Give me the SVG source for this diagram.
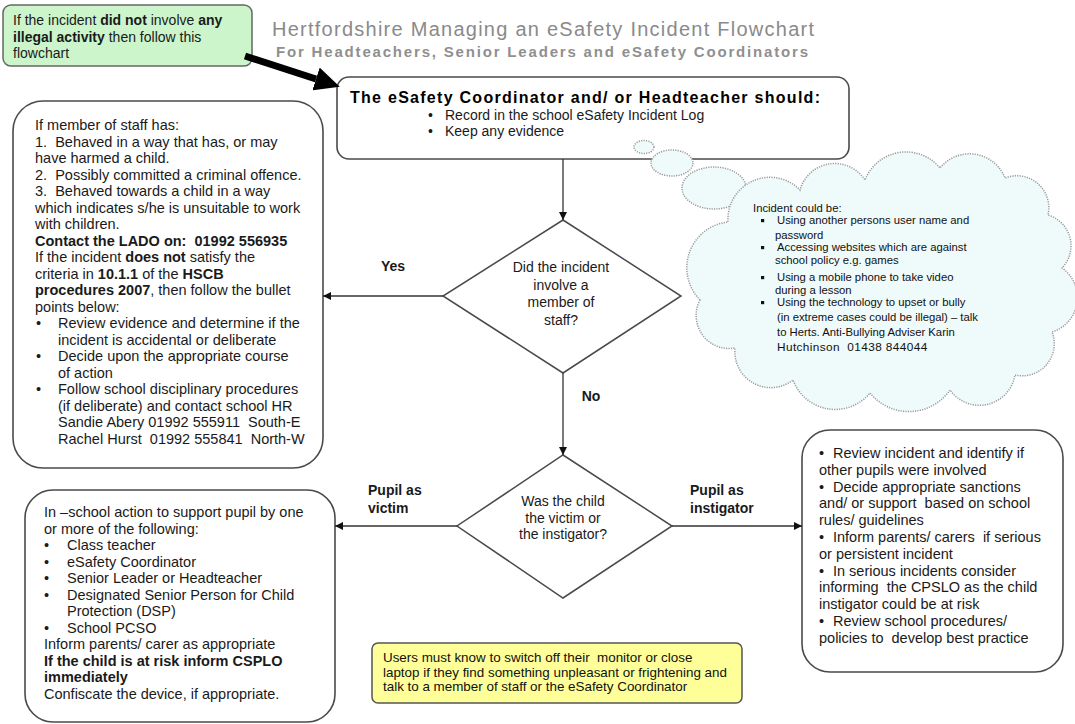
<svg xmlns="http://www.w3.org/2000/svg" width="1075" height="724" viewBox="0 0 1075 724">
<style>
.t{font-family:"Liberation Sans",Arial,sans-serif;font-size:14.5px;fill:#1a1a1a}
.b{font-weight:bold}
.s{font-size:14px}
.c{font-size:11.3px;fill:#111}
.y{font-size:13.4px;fill:#111}
.box{fill:#fff;stroke:#4a4a4a;stroke-width:1.6}
.dia{fill:#fff;stroke:#4a4a4a;stroke-width:1.5}
.conn{stroke:#333;stroke-width:1.3;fill:none;marker-end:url(#ah)}
.cl{fill:#effafa;stroke:#9a9a9a;stroke-width:1.5;stroke-dasharray:1.2 1.2}
</style>
<defs>
<marker id="ah" markerUnits="userSpaceOnUse" markerWidth="9" markerHeight="8" refX="8" refY="4" orient="auto">
<path d="M0,0 L8,4 L0,8 z" fill="#111"/>
</marker>
<marker id="big" markerUnits="userSpaceOnUse" markerWidth="26" markerHeight="24" refX="0" refY="12" orient="auto">
<path d="M0,0 L25,12 L0,24 z" fill="#000"/>
</marker>
</defs>
<rect width="1075" height="724" fill="#fff"/>

<g id="title">
<text class="t" x="272" y="36" style="font-size:20px;fill:#8a8a8a" textLength="542" lengthAdjust="spacing">Hertfordshire Managing an eSafety Incident Flowchart</text>
<text class="t b" x="276" y="57" style="font-size:15px;fill:#8f8f8f" textLength="532" lengthAdjust="spacing">For Headteachers, Senior Leaders and eSafety Coordinators</text>
</g>

<g id="note-green">
<rect x="3" y="5" width="249" height="61" rx="8" fill="#ccf5cc" stroke="#666" stroke-width="1.5"/>
<text class="t" x="13" y="25" style="font-size:14px">If the incident <tspan class="b">did not</tspan> involve <tspan class="b">any</tspan></text>
<text class="t" x="13" y="42" style="font-size:14px"><tspan class="b">illegal activity</tspan> then follow this</text>
<text class="t" x="13" y="58" style="font-size:14px">flowchart</text>
</g>

<g id="coordinator">
<rect class="box" x="337" y="77" width="512" height="82" rx="12"/>
<text class="t b" x="350" y="103" style="font-size:16px;fill:#000" textLength="470" lengthAdjust="spacing">The eSafety Coordinator and/ or Headteacher should:</text>
<text class="t s" x="428" y="120">•</text>
<text class="t s" x="445" y="120">Record in the school eSafety Incident Log</text>
<text class="t s" x="428" y="136">•</text>
<text class="t s" x="445" y="136">Keep any evidence</text>
</g>

<g id="staff-box">
<rect class="box" x="13" y="101" width="310" height="367" rx="30"/>
<text class="t" x="35" y="130">If member of staff has:</text>
<text class="t" x="35" y="146.5" xml:space="preserve">1.  Behaved in a way that has, or may</text>
<text class="t" x="35" y="163">have harmed a child.</text>
<text class="t" x="35" y="179.5" xml:space="preserve">2.  Possibly committed a criminal offence.</text>
<text class="t" x="35" y="196" xml:space="preserve">3.  Behaved towards a child in a way</text>
<text class="t" x="35" y="212.5">which indicates s/he is unsuitable to work</text>
<text class="t" x="35" y="229">with children.</text>
<text class="t b" x="35" y="245.5" xml:space="preserve">Contact the LADO on:  01992 556935</text>
<text class="t" x="35" y="262">If the incident <tspan class="b">does not</tspan> satisfy the</text>
<text class="t" x="35" y="278.5">criteria in <tspan class="b">10.1.1</tspan> of the <tspan class="b">HSCB</tspan></text>
<text class="t" x="35" y="295"><tspan class="b">procedures 2007</tspan>, then follow the bullet</text>
<text class="t" x="35" y="311.5">points below:</text>
<text class="t" x="36" y="328">•</text>
<text class="t" x="58" y="328">Review evidence and determine if the</text>
<text class="t" x="58" y="344.5">incident is accidental or deliberate</text>
<text class="t" x="36" y="361">•</text>
<text class="t" x="58" y="361">Decide upon the appropriate course</text>
<text class="t" x="58" y="377.5">of action</text>
<text class="t" x="36" y="394">•</text>
<text class="t" x="58" y="394">Follow school disciplinary procedures</text>
<text class="t" x="58" y="410.5">(if deliberate) and contact school HR</text>
<text class="t" x="58" y="427" xml:space="preserve">Sandie Abery 01992 555911  South-E</text>
<text class="t" x="58" y="443.5" xml:space="preserve">Rachel Hurst  01992 555841  North-W</text>
</g>

<g id="thought-cloud">
<ellipse class="cl" cx="644" cy="147" rx="10" ry="6.5"/>
<ellipse class="cl" cx="672" cy="163" rx="21" ry="13"/>
<ellipse class="cl" cx="714" cy="188" rx="32" ry="21"/>
<path class="cl" d="M700,300 A46,46 0 0 1 728,222 A42,42 0 0 1 800,190 A36,36 0 0 1 865,180 A44,44 0 0 1 940,168 A38,38 0 0 1 1005,178 A32,32 0 0 1 1048,215 A32,32 0 0 1 1062,268 A36,36 0 0 1 1052,332 A32,32 0 0 1 1015,375 A36,36 0 0 1 950,390 A50,50 0 0 1 870,393 A45,45 0 0 1 793,380 A36,36 0 0 1 735,348 A33,33 0 0 1 700,300 Z"/>
<text class="t c" x="753" y="212">Incident could be:</text>
<rect x="761" y="219" width="3.2" height="3.2" fill="#111"/>
<text class="t c" x="777" y="224">Using another persons user name and</text>
<text class="t c" x="775" y="239">password</text>
<rect x="761" y="246" width="3.2" height="3.2" fill="#111"/>
<text class="t c" x="777" y="251">Accessing websites which are against</text>
<text class="t c" x="775" y="264">school policy e.g. games</text>
<rect x="761" y="276" width="3.2" height="3.2" fill="#111"/>
<text class="t c" x="777" y="281">Using a mobile phone to take video</text>
<text class="t c" x="775" y="294">during a lesson</text>
<rect x="761" y="301" width="3.2" height="3.2" fill="#111"/>
<text class="t c" x="777" y="306">Using the technology to upset or bully</text>
<text class="t c" x="777" y="321">(in extreme cases could be illegal) – talk</text>
<text class="t c" x="777" y="336">to Herts. Anti-Bullying Adviser Karin</text>
<text class="t c" x="777" y="351" style="font-size:11.8px;letter-spacing:0.4px" xml:space="preserve">Hutchinson  01438 844044</text>
</g>

<g id="decision-staff">
<polygon class="dia" points="563,220 681,296 563,373 443,296"/>
<text class="t s" x="561" y="272" text-anchor="middle">Did the incident</text>
<text class="t s" x="561" y="290" text-anchor="middle">involve a</text>
<text class="t s" x="561" y="307" text-anchor="middle">member of</text>
<text class="t s" x="561" y="325" text-anchor="middle">staff?</text>
</g>

<g id="decision-pupil">
<polygon class="dia" points="563,455 672,526 563,598 457,526"/>
<text class="t s" x="563" y="506" text-anchor="middle">Was the child</text>
<text class="t s" x="563" y="523" text-anchor="middle">the victim or</text>
<text class="t s" x="563" y="539" text-anchor="middle">the instigator?</text>
</g>

<g id="victim-box">
<rect class="box" x="25" y="490" width="310" height="232" rx="28"/>
<text class="t" x="44" y="517">In –school action to support pupil by one</text>
<text class="t" x="44" y="533.5">or more of the following:</text>
<text class="t" x="44" y="550">•</text>
<text class="t" x="67" y="550">Class teacher</text>
<text class="t" x="44" y="566.5">•</text>
<text class="t" x="67" y="566.5">eSafety Coordinator</text>
<text class="t" x="44" y="583">•</text>
<text class="t" x="67" y="583">Senior Leader or Headteacher</text>
<text class="t" x="44" y="599.5">•</text>
<text class="t" x="67" y="599.5">Designated Senior Person for Child</text>
<text class="t" x="67" y="616">Protection (DSP)</text>
<text class="t" x="44" y="632.5">•</text>
<text class="t" x="67" y="632.5">School PCSO</text>
<text class="t" x="44" y="649">Inform parents/ carer as appropriate</text>
<text class="t b" x="44" y="665.5">If the child is at risk inform CSPLO</text>
<text class="t b" x="44" y="682">immediately</text>
<text class="t" x="44" y="698.5">Confiscate the device, if appropriate.</text>
</g>

<g id="instigator-box">
<rect class="box" x="802" y="430" width="261" height="242" rx="28"/>
<text class="t" x="819" y="458">•</text><text class="t" x="833" y="458">Review incident and identify if</text>
<text class="t" x="819" y="474.8">other pupils were involved</text>
<text class="t" x="819" y="491.6">•</text><text class="t" x="833" y="491.6">Decide appropriate sanctions</text>
<text class="t" x="819" y="508.4" xml:space="preserve">and/ or support  based on school</text>
<text class="t" x="819" y="525.2">rules/ guidelines</text>
<text class="t" x="819" y="542">•</text><text class="t" x="833" y="542" xml:space="preserve">Inform parents/ carers  if serious</text>
<text class="t" x="819" y="558.8">or persistent incident</text>
<text class="t" x="819" y="575.6">•</text><text class="t" x="833" y="575.6">In serious incidents consider</text>
<text class="t" x="819" y="592.4" xml:space="preserve">informing  the CPSLO as the child</text>
<text class="t" x="819" y="609.2">instigator could be at risk</text>
<text class="t" x="819" y="626">•</text><text class="t" x="833" y="626">Review school procedures/</text>
<text class="t" x="819" y="642.8" xml:space="preserve">policies to  develop best practice</text>
</g>

<g id="note-yellow">
<rect x="372" y="643" width="370" height="60" rx="6" fill="#ffff99" stroke="#555" stroke-width="1.5"/>
<text class="t y" x="383" y="662" xml:space="preserve">Users must know to switch off their  monitor or close</text>
<text class="t y" x="383" y="677">laptop if they find something unpleasant or frightening and</text>
<text class="t y" x="383" y="691">talk to a member of staff or the eSafety Coordinator</text>
</g>

<g id="connectors">
<line x1="245" y1="56" x2="316" y2="79" stroke="#000" stroke-width="7" marker-end="url(#big)"/>
<line class="conn" x1="563" y1="159" x2="563" y2="220"/>
<line class="conn" x1="443" y1="296" x2="323" y2="296"/>
<line class="conn" x1="563" y1="373" x2="563" y2="455"/>
<line class="conn" x1="457" y1="526" x2="335" y2="526"/>
<line class="conn" x1="672" y1="526" x2="802" y2="526"/>
<text class="t b s" x="393" y="271" text-anchor="middle">Yes</text>
<text class="t b s" x="591" y="401" text-anchor="middle">No</text>
<text class="t b s" x="368" y="495">Pupil as</text>
<text class="t b s" x="368" y="513">victim</text>
<text class="t b s" x="690" y="495">Pupil as</text>
<text class="t b s" x="690" y="513">instigator</text>
</g>
</svg>
